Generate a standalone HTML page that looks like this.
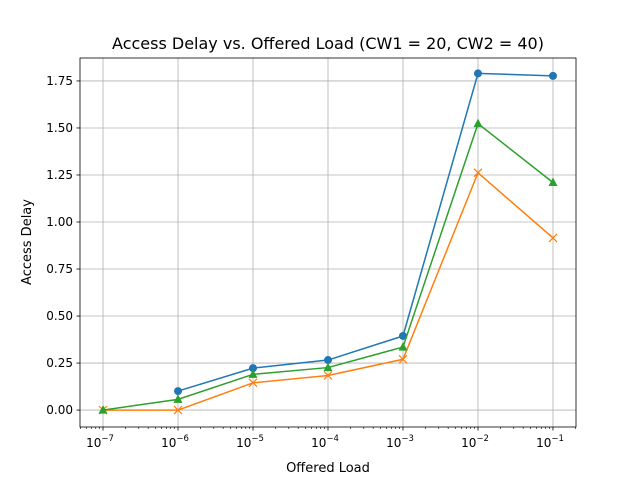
<!DOCTYPE html>
<html><head><meta charset="utf-8"><style>
body{margin:0;background:#fff;}
svg{display:block;font-family:"DejaVu Sans","Liberation Sans",sans-serif;}
</style></head><body>
<svg id="chart" width="640" height="480">
<rect width="640" height="480" fill="#fff"/>
<text x="328" y="49" text-anchor="middle" font-size="16" fill="#000">Access Delay vs. Offered Load (CW1 = 20, CW2 = 40)</text>
<g id="grid"></g><g id="axes"></g><g id="series"></g>
<rect x="80" y="58" width="496" height="369" fill="none" stroke="#000" stroke-width="0.8"/>
<text x="328" y="472" text-anchor="middle" font-size="13">Offered Load</text>
<text transform="translate(31,242) rotate(-90)" text-anchor="middle" font-size="13">Access Delay</text>
</svg>
<script>
const exponents=[-7,-6,-5,-4,-3,-2,-1];
const seriesA=[null,0.101,0.223,0.266,0.394,1.79,1.777];
const seriesB=[0,0,0.145,0.184,0.27,1.262,0.915];
const seriesC=[0,0.057,0.19,0.226,0.335,1.523,1.21];
const yTicks=[0,0.25,0.5,0.75,1.0,1.25,1.5,1.75];
const yTickLabels=["0.00","0.25","0.50","0.75","1.00","1.25","1.50","1.75"];
const L=80,R=576,T=58,B=427,xmin=-7.307,xmax=-0.693,ymin=-0.09,ymax=1.872;
const sx=v=>L+(v-xmin)/(xmax-xmin)*(R-L);
const sy=v=>B-(v-ymin)/(ymax-ymin)*(B-T);
const NS="http://www.w3.org/2000/svg";
function mk(tag,attrs,parent){const e=document.createElementNS(NS,tag);for(const k in attrs)e.setAttribute(k,attrs[k]);parent.appendChild(e);return e;}
const grid=document.getElementById('grid'),axes=document.getElementById('axes'),ser=document.getElementById('series');
exponents.forEach(e=>{const x=sx(e);
 const g=mk('line',{x1:x,x2:x,y1:T,y2:B,stroke:'#b0b0b0','stroke-width':0.8},grid);
 
 mk('line',{x1:x,x2:x,y1:B,y2:B+3.5,stroke:'#000','stroke-width':0.8},axes);
 const t=mk('text',{x:x-3,y:B+20,'text-anchor':'middle','font-size':12},axes);
 
 t.innerHTML='10<tspan dy="-6" font-size="8.5">\u2212'+(-e)+'</tspan>';
});
for(let e=-8;e<=0;e++)for(let m=2;m<=9;m++){const v=e+Math.log10(m);if(v<xmin||v>xmax)continue;
 mk('line',{x1:sx(v),x2:sx(v),y1:B,y2:B+2,stroke:'#000','stroke-width':0.6},axes);}
yTicks.forEach((v,i)=>{const y=sy(v);
 const g=mk('line',{x1:L,x2:R,y1:y,y2:y,stroke:'#b0b0b0','stroke-width':0.8},grid);
 
 mk('line',{x1:L-3.5,x2:L,y1:y,y2:y,stroke:'#000','stroke-width':0.8},axes);
 const t=mk('text',{x:L-7,y:y+4,'text-anchor':'end','font-size':12},axes);
 
 t.textContent=yTickLabels[i];
});
function draw(vals,color,marker,name){
 const pts=[];vals.forEach((v,i)=>{if(v!==null)pts.push([sx(exponents[i]),sy(v)]);});
 const p=mk('polyline',{points:pts.map(p=>p.join(',')).join(' '),fill:'none',stroke:color,'stroke-width':1.5},ser);
 
 pts.forEach(([x,y])=>{let m;
  if(marker==='o')m=mk('circle',{cx:x,cy:y,r:4,fill:color},ser);
  else if(marker==='x')m=mk('path',{d:`M${x-4},${y-4}L${x+4},${y+4}M${x-4},${y+4}L${x+4},${y-4}`,stroke:color,'stroke-width':1.2},ser);
  else m=mk('polygon',{points:`${x},${y-5} ${x-4.5},${y+3.5} ${x+4.5},${y+3.5}`,fill:color},ser);
  
 });
}
draw(seriesA,'#1f77b4','o','series-blue');
draw(seriesB,'#ff7f0e','x','series-orange');
draw(seriesC,'#2ca02c','^','series-green');
</script>
</body></html>
